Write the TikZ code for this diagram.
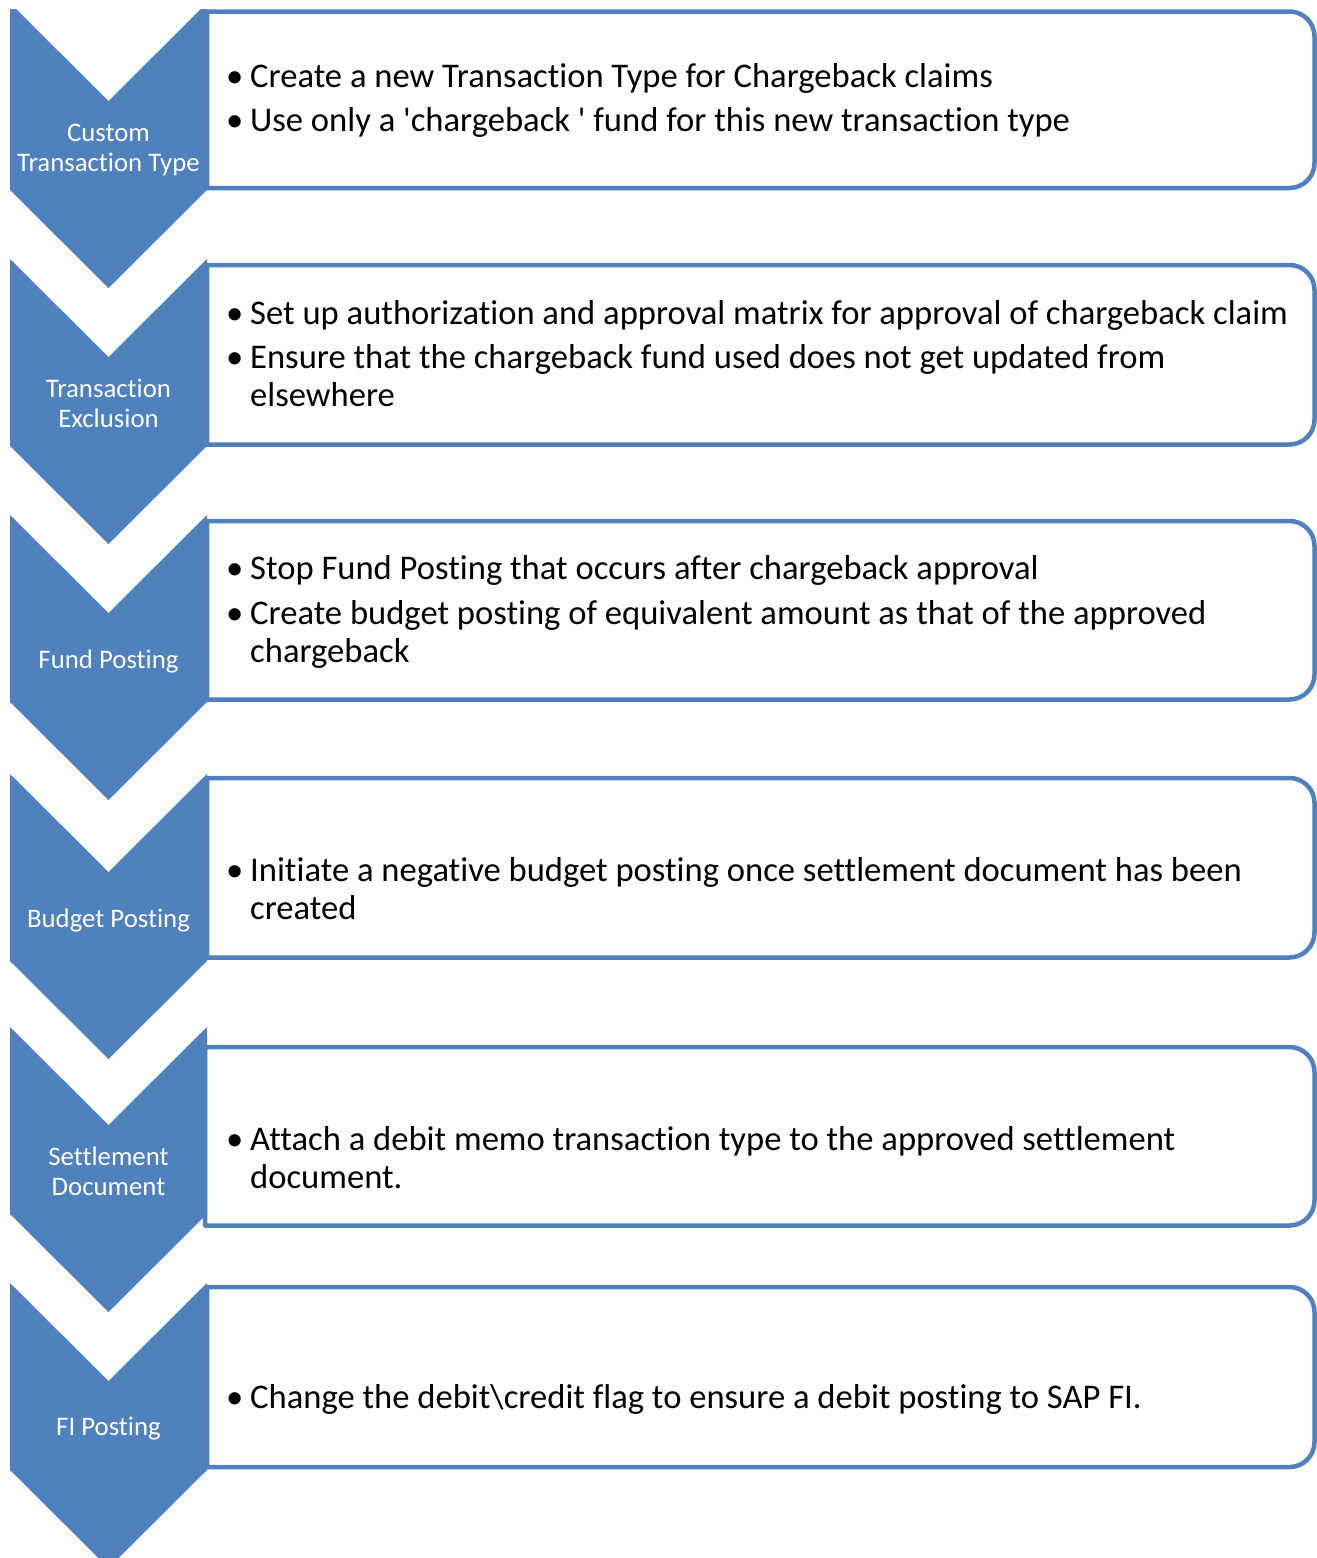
\documentclass[tikz,border=0pt]{standalone}
\usepackage{fontspec}
\setmainfont{Carlito}[Ligatures={TeX,NoCommon}]
\definecolor{accent}{HTML}{4F81BD}
\begin{document}
\begin{tikzpicture}[x=1pt,y=-1pt,
  chev/.style={fill=accent, draw=none},
  infobox/.style={draw=accent, line width=4.5pt, fill=white, line join=round},
  lbl/.style={text=white, inner sep=0pt, font=\fontsize{26.8}{30}\selectfont, anchor=base},
  txt/.style={inner sep=0pt, anchor=base west, font=\fontsize{34.6}{38}\selectfont}]
\useasboundingbox (0,0) rectangle (1317,1558);

% content boxes (square left side, rounded right corners)
\foreach \t/\b/\l in {11.5/188/207, 265/444.5/207, 521/699.5/207, 778/957.5/207, 1047/1225.5/205, 1287/1467/207}{
  \draw[infobox] (\l,\t) -- (1289.5,\t)
    .. controls (1303.3,\t) and (1314.5,\t+11.2) .. (1314.5,\t+25)
    -- (1314.5,\b-25)
    .. controls (1314.5,\b-11.2) and (1303.3,\b) .. (1289.5,\b)
    -- (\l,\b) -- cycle;
}

% chevrons
\begin{scope}
  \clip (0,9) rectangle (1317,1558);
  \foreach \T in {3,259,515,774,1027,1283}{
    \fill[chev] (10,\T) -- (108.5,\T+98) -- (207,\T) -- (207,\T+187)
      -- (108.5,\T+285) -- (10,\T+187) -- cycle;
  }
\end{scope}

% chevron labels
\node[lbl] (l1) at (108.5,141) {\begin{tabular}[t]{@{}c@{}}Custom\\Transaction Type\end{tabular}};
\node[lbl] (l2) at (108.5,397) {\begin{tabular}[t]{@{}c@{}}Transaction\\Exclusion\end{tabular}};
\node[lbl] (l3) at (108.5,668) {Fund Posting};
\node[lbl] (l4) at (108.5,927) {Budget Posting};
\node[lbl] (l5) at (108.5,1165) {\begin{tabular}[t]{@{}c@{}}Settlement\\Document\end{tabular}};
\node[lbl] (l6) at (108.5,1435) {FI Posting};

% box texts
\node[txt] (t1) at (226,87) {\begin{tabular}[t]{@{}p{24pt}@{}l@{}}
\textbullet & Create a new Transaction Type for Chargeback claims\\[6pt]
\textbullet & Use only a \textquotesingle chargeback \textquotesingle{} fund for this new transaction type
\end{tabular}};
\node[txt] (t2) at (226,324) {\begin{tabular}[t]{@{}p{24pt}@{}l@{}}
\textbullet & Set up authorization and approval matrix for approval of chargeback claim\\[6pt]
\textbullet & Ensure that the chargeback fund used does not get updated from\\
 & elsewhere
\end{tabular}};
\node[txt] (t3) at (226,579) {\begin{tabular}[t]{@{}p{24pt}@{}l@{}}
\textbullet & Stop Fund Posting that occurs after chargeback approval\\[7pt]
\textbullet & Create budget posting of equivalent amount as that of the approved\\
 & chargeback
\end{tabular}};
\node[txt] (t4) at (226,881) {\begin{tabular}[t]{@{}p{24pt}@{}l@{}}
\textbullet & Initiate a negative budget posting once settlement document has been\\
 & created
\end{tabular}};
\node[txt] (t5) at (226,1150) {\begin{tabular}[t]{@{}p{24pt}@{}l@{}}
\textbullet & Attach a debit memo transaction type to the approved settlement\\
 & document.
\end{tabular}};
\node[txt] (t6) at (226,1408) {\begin{tabular}[t]{@{}p{24pt}@{}l@{}}
\textbullet & Change the debit\textbackslash credit flag to ensure a debit posting to SAP FI.
\end{tabular}};
\end{tikzpicture}
\end{document}
